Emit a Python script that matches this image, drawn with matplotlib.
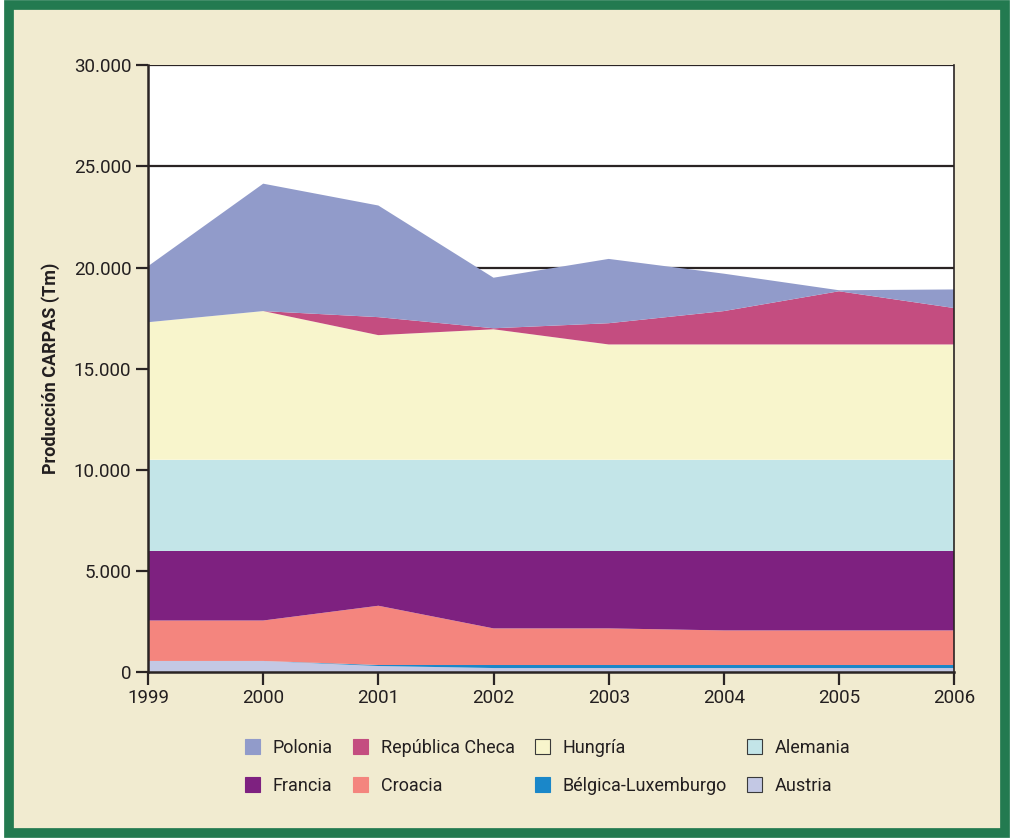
import numpy as np
import matplotlib.pyplot as plt
from matplotlib.patches import Rectangle
from matplotlib.ticker import FuncFormatter

years = [1999, 2000, 2001, 2002, 2003, 2004, 2005, 2006]

# toneladas, de abajo hacia arriba
austria  = [550, 550, 300, 200, 200, 200, 200, 200]
belgica  = [0, 0, 50, 150, 150, 150, 150, 150]
croacia  = [2000, 2000, 2930, 1810, 1810, 1710, 1710, 1710]
francia  = [3450, 3450, 2720, 3840, 3840, 3940, 3940, 3940]
alemania = [4500, 4500, 4500, 4500, 4500, 4500, 4500, 4500]
hungria  = [6800, 7350, 6160, 6450, 5700, 5700, 5700, 5700]
checa    = [0, 0, 890, 50, 1050, 1650, 2630, 1800]
polonia  = [2770, 6300, 5520, 2500, 3180, 1850, 50, 920]

names = ['Austria', 'Bélgica-Luxemburgo', 'Croacia', 'Francia',
         'Alemania', 'Hungría', 'República Checa', 'Polonia']
colors = ['#c3c8e4', '#1a87c9', '#f4857e', '#7e2180',
          '#c3e5e8', '#f8f5cc', '#c44d80', '#919bca']

plt.rcParams['font.family'] = ['Roboto', 'DejaVu Sans']

bg = '#f1ebd0'
fig = plt.figure(figsize=(10.14, 8.38), dpi=100, facecolor='white')
fig.patches.append(Rectangle((0.009, 0.006), 0.982, 0.988, transform=fig.transFigure,
                             facecolor=bg, edgecolor='#237a50', linewidth=7, zorder=-10))

ax = fig.add_axes([0.146, 0.198, 0.795, 0.724])
ax.set_facecolor('white')
for y in [20000, 25000, 30000]:
    ax.axhline(y, color='#2a2424', lw=1.6, zorder=0)

ax.stackplot(years, austria, belgica, croacia, francia, alemania, hungria, checa, polonia,
             colors=colors, zorder=2)

ax.set_xlim(1999, 2006)
ax.set_ylim(0, 30000)
ax.set_xticks(years)
ax.set_yticks(range(0, 30001, 5000))
ax.yaxis.set_major_formatter(FuncFormatter(lambda v, p: f'{int(v):,}'.replace(',', '.')))
ax.tick_params(axis='both', direction='out', length=9, width=1.6, color='#2a2424',
               labelsize=13.5, labelcolor='#231f20', pad=3)
for s in ['left', 'bottom', 'right']:
    ax.spines[s].set_linewidth(1.8)
    ax.spines[s].set_color('#2a2424')
ax.spines['top'].set_visible(False)
ax.spines['right'].set_linewidth(1.2)
ax.spines['right'].set_zorder(3)

ax.set_ylabel('Producción CARPAS (Tm)', fontsize=13, fontweight='bold',
              color='#231f20', labelpad=10)

order = [7, 3, 6, 2, 5, 1, 4, 0]
handles = []
for i in order:
    light = names[i] in ('Hungría', 'Alemania', 'Austria')
    handles.append(Rectangle((0, 0), 1, 1, facecolor=colors[i],
                             edgecolor='#3a3a3a' if light else colors[i], lw=0.8))
leg = fig.legend(handles, [names[i] for i in order], ncol=4, loc='center',
                 bbox_to_anchor=(0.54, 0.085), frameon=False, fontsize=13,
                 handlelength=0.85, handleheight=0.85, handletextpad=0.7,
                 columnspacing=1.1, labelspacing=1.1)
for t in leg.get_texts():
    t.set_color('#231f20')

fig.savefig('out.png', dpi=100, facecolor='white')
